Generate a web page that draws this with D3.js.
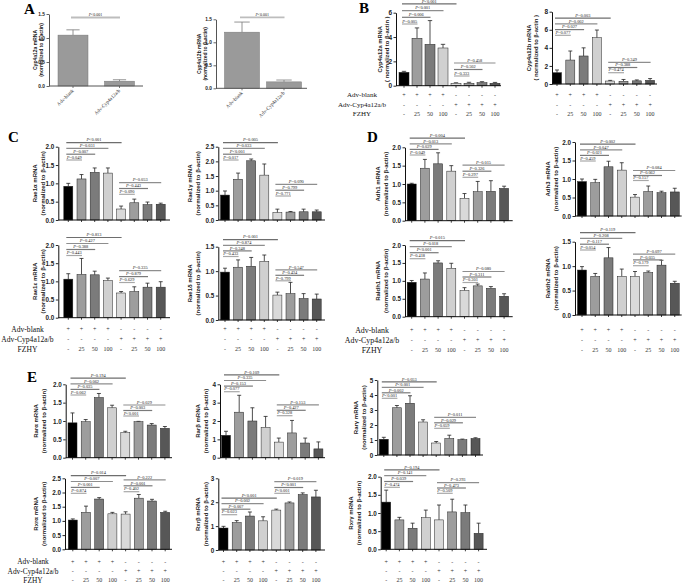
<!DOCTYPE html>
<html><head><meta charset="utf-8">
<script src="https://cdn.jsdelivr.net/npm/d3@7"></script>
<style>body{margin:0;background:#fff}</style>
</head><body>
<svg id="fig" width="685" height="584"></svg>
<script>
// ---------- DATA ----------
const catsA = ["Adv-blank", "Adv-Cyp4a12a/b"];
const cats = ["b0", "b25", "b50", "b100", "c0", "c25", "c50", "c100"];
const advBlank = ["+", "+", "+", "+", "-", "-", "-", "-"];
const advCyp = ["-", "-", "-", "-", "+", "+", "+", "+"];
const fzhy = ["-", "25", "50", "100", "-", "25", "50", "100"];
const rowNames = ["Adv-blank", "Adv-Cyp4a12a/b", "FZHY"];

const cyp4a12aA = [1.06, 0.10], cyp4a12aAErr = [0.11, 0.03];
const cyp4a12bA = [1.22, 0.14], cyp4a12bAErr = [0.22, 0.04];
const pA = ["P<0.001"];

const cyp4a12aB = [1.1, 3.9, 3.4, 3.1, 0.2, 0.2, 0.25, 0.2];
const cyp4a12aBErr = [0.08, 0.85, 1.95, 0.3, 0.04, 0.08, 0.08, 0.07];
const cyp4a12aBP1 = ["P=0.005", "P=0.006", "P<0.001", "P<0.001"];
const cyp4a12aBP2 = ["P=0.333", "P=0.502", "P=0.458"];
const cyp4a12bB = [1.25, 2.65, 3.1, 5.12, 0.33, 0.3, 0.35, 0.4];
const cyp4a12bBErr = [0.3, 1.0, 0.9, 0.85, 0.07, 0.2, 0.1, 0.2];
const cyp4a12bBP1 = ["P=0.077", "P=0.027", "P=0.002", "P=0.003"];
const cyp4a12bBP2 = ["P=0.474", "P=0.388", "P=0.349"];

const rae1a = [0.92, 1.12, 1.3, 1.28, 0.3, 0.47, 0.42, 0.43];
const rae1aErr = [0.08, 0.12, 0.12, 0.14, 0.08, 0.1, 0.07, 0.03];
const rae1aP1 = ["P=0.049", "P=0.007", "P=0.031", "P<0.001"];
const rae1aP2 = ["P=0.090", "P=0.443", "P=0.053"];
const rae1g = [0.85, 1.39, 2.02, 1.53, 0.25, 0.27, 0.28, 0.28];
const rae1gErr = [0.14, 0.21, 0.06, 0.38, 0.12, 0.02, 0.09, 0.06];
const rae1gP1 = ["P=0.017", "P<0.001", "P=0.033", "P=0.005"];
const rae1gP2 = ["P=0.771", "P=0.799", "P=0.090"];
const rae1e = [1.06, 1.19, 1.18, 1.02, 0.68, 0.72, 0.84, 0.84];
const rae1eErr = [0.15, 0.44, 0.1, 0.07, 0.04, 0.13, 0.11, 0.15];
const rae1eP1 = ["P=0.443", "P=0.388", "P=0.427", "P=0.813"];
const rae1eP2 = ["P=0.629", "P=0.879", "P=0.335"];
const rae1d = [0.98, 1.08, 1.1, 1.2, 0.51, 0.54, 0.44, 0.43];
const rae1dErr = [0.08, 0.15, 0.18, 0.13, 0.06, 0.23, 0.1, 0.1];
const rae1dP1 = ["P=0.433", "P=0.348", "P=0.874", "P=0.001"];
const rae1dP2 = ["P=0.799", "P=0.434", "P=0.547"];

const adh1 = [1.0, 1.43, 1.55, 1.35, 0.61, 0.79, 0.8, 0.88];
const adh1Err = [0.02, 0.24, 0.3, 0.15, 0.13, 0.28, 0.29, 0.06];
const adh1P1 = ["P=0.049", "P=0.029", "P=0.013", "P=0.004"];
const adh1P2 = ["P=0.297", "P=0.326", "P=0.015"];
const adh3 = [0.93, 0.9, 1.33, 1.24, 0.51, 0.66, 0.63, 0.65];
const adh3Err = [0.07, 0.09, 0.15, 0.2, 0.07, 0.15, 0.04, 0.1];
const adh3P1 = ["P=0.459", "P=0.021", "P=0.047", "P=0.002"];
const adh3P2 = ["P=0.157", "P=0.062", "P=0.084"];
const raldh1 = [0.96, 1.05, 1.5, 1.35, 0.73, 0.86, 0.79, 0.57];
const raldh1Err = [0.05, 0.17, 0.06, 0.14, 0.08, 0.05, 0.05, 0.07];
const raldh1P1 = ["P=0.418", "P<0.001", "P=0.018", "P=0.015"];
const raldh1P2 = ["P=0.301", "P=0.311", "P=0.080"];
const raldh2 = [0.92, 0.79, 1.17, 0.79, 0.79, 0.87, 1.02, 0.65];
const raldh2Err = [0.07, 0.06, 0.21, 0.15, 0.1, 0.03, 0.1, 0.04];
const raldh2P1 = ["P=0.054", "P=0.117", "P=0.208", "P=0.119"];
const raldh2P2 = ["P=0.179", "P=0.035", "P=0.097"];

const rara = [0.95, 0.98, 1.64, 1.36, 0.68, 0.98, 0.89, 0.8];
const raraErr = [0.27, 0.06, 0.11, 0.07, 0.04, 0.01, 0.04, 0.05];
const raraP1 = ["P=0.062", "P=0.035", "P=0.062", "P=0.194"];
const raraP2 = ["P<0.001", "P=0.003", "P=0.029"];
const rarb = [1.22, 2.48, 2.0, 1.65, 0.85, 1.35, 0.8, 0.48];
const rarbErr = [0.22, 0.92, 0.72, 0.6, 0.22, 0.68, 0.27, 0.38];
const rarbP1 = ["P=0.077", "P=0.153", "P=0.335", "P=0.109"];
const rarbP2 = ["P=0.328", "P=0.427", "P=0.153"];
const rarg = [1.05, 3.15, 3.45, 2.2, 0.8, 1.1, 1.02, 1.1];
const rargErr = [0.13, 0.15, 0.5, 0.15, 0.1, 0.22, 0.04, 0.05];
const rargP1 = ["P<0.001", "P=0.002", "P<0.001", "P=0.053"];
const rargP2 = ["P=0.059", "P=0.029", "P=0.011"];
const rxra = [1.03, 1.3, 1.77, 1.25, 1.24, 1.8, 1.7, 1.3];
const rxraErr = [0.04, 0.22, 0.05, 0.05, 0.08, 0.13, 0.06, 0.04];
const rxraP1 = ["P=0.874", "P<0.001", "P=0.007", "P=0.014"];
const rxraP2 = ["P=0.402", "P=0.001", "P=0.222"];
const rxrb = [0.92, 1.15, 1.42, 1.22, 1.67, 1.97, 2.32, 2.22];
const rxrbErr = [0.07, 0.08, 0.17, 0.17, 0.04, 0.04, 0.07, 0.28];
const rxrbP1 = ["P=0.023", "P=0.007", "P=0.002", "P<0.001"];
const rxrbP2 = ["P<0.001", "P<0.001", "P=0.019"];
const rxrg = [1.3, 0.81, 0.58, 0.87, 0.81, 1.03, 1.01, 0.44];
const rxrgErr = [0.33, 0.07, 0.14, 0.21, 0.41, 0.35, 0.21, 0.28];
const rxrgP1 = ["P=0.474", "P=0.039", "P=0.141", "P=0.194"];
const rxrgP2 = ["P=0.509", "P=0.473", "P=0.293"];

// ---------- STYLE ----------
const barColors = ["#000000", "#9d9d9d", "#7b7b7b", "#d0d0d0", "#d9d9d9", "#9d9d9d", "#7b7b7b", "#575757"];
const sigCols1 = ["#a8a8a8", "#7a7a7a", "#8e8e8e", "#6e6e6e"];
const sigCols2 = ["#a8a8a8", "#7a7a7a", "#8e8e8e"];
const SANS = "'Liberation Sans', Arial, sans-serif";
const SERIF = "'Liberation Serif', 'Times New Roman', serif";
const nl = "(normalized to β-actin)";

const svg = d3.select("#fig");

function sigText(g, x, y, txt, fs) {
  const t = g.append("text").attr("x", x).attr("y", y).attr("text-anchor", "middle")
    .style("font-family", SERIF).attr("font-size", fs).attr("fill", "#222");
  t.append("tspan").attr("font-style", "italic").text(txt[0]);
  t.append("tspan").text(txt.slice(1));
}

function drawChart(L) {
  const g = svg.append("g");
  const keys = L.cats || cats;
  const n = keys.length;
  const pad = 1 - L.bw / L.step;
  const x = d3.scaleBand().domain(keys)
    .range([L.c0 - L.step / 2, L.c0 + (n - 0.5) * L.step])
    .paddingInner(pad).paddingOuter(pad / 2);
  const y = d3.scaleLinear().domain([0, L.ymax]).range([L.y0, L.yTop]);
  const cx = k => x(k) + x.bandwidth() / 2;
  const colors = L.colors || barColors;
  const axCol = L.axCol || "#111";
  const errCol = L.errCol || "#222";

  const cap = Math.max(1.5, x.bandwidth() * 0.22);
  L.vals.forEach((v, i) => {
    const xc = cx(keys[i]), yt = y(v + L.errs[i]);
    g.append("line").attr("x1", xc).attr("x2", xc).attr("y1", y(v)).attr("y2", yt)
      .attr("stroke", errCol).attr("stroke-width", 0.8);
    g.append("line").attr("x1", xc - cap).attr("x2", xc + cap).attr("y1", yt).attr("y2", yt)
      .attr("stroke", errCol).attr("stroke-width", 0.8);
  });
  g.selectAll("rect.bar").data(L.vals).join("rect").attr("class", "bar")
    .attr("x", (d, i) => x(keys[i])).attr("y", d => y(d))
    .attr("width", x.bandwidth()).attr("height", d => y(0) - y(d))
    .attr("fill", (d, i) => colors[i]).attr("stroke", L.barStroke || "#222").attr("stroke-width", 0.5);

  const ya = g.append("g").attr("transform", `translate(${L.ax},0)`)
    .call(d3.axisLeft(y).tickValues(L.ticks).tickSize(2.5).tickSizeOuter(0).tickPadding(1.5)
      .tickFormat(d3.format(L.fmt)));
  ya.select(".domain").attr("stroke", axCol).attr("stroke-width", 1);
  ya.selectAll(".tick line").attr("stroke", axCol).attr("stroke-width", 0.9);
  ya.selectAll(".tick text").style("font-family", SANS).attr("font-weight", "bold")
    .attr("font-size", L.tfs).attr("fill", "#222");
  const xa = g.append("g").attr("transform", `translate(0,${L.y0})`)
    .call(d3.axisBottom(x).tickSize(2).tickSizeOuter(0).tickFormat(""));
  xa.select(".domain").attr("d", `M${L.ax},0H${L.axEnd}`).attr("stroke", axCol).attr("stroke-width", 1);
  xa.selectAll(".tick line").attr("stroke", axCol).attr("stroke-width", 0.8);

  const yc = (L.y0 + L.yTop) / 2 + (L.ylOff || 0);
  L.ylab.forEach((t, k) => {
    g.append("text").attr("transform", `translate(${L.ylx[k]},${yc}) rotate(-90)`)
      .attr("text-anchor", "middle").attr("dominant-baseline", "central")
      .style("font-family", SANS).attr("font-weight", "bold").attr("font-size", L.yfs)
      .attr("fill", "#222").text(t);
  });

  const sfs = L.sfs || 4.4;
  const drawSig = (from, to, yy, txt, col) => {
    const x1 = cx(keys[from]) - 2, x2 = cx(keys[to]) + 0.5;
    g.append("line").attr("x1", x1).attr("x2", x2).attr("y1", yy).attr("y2", yy)
      .attr("stroke", col).attr("stroke-width", L.sigW || 1.2);
    sigText(g, (x1 + x2) / 2, yy - 1.3, txt, sfs);
  };
  if (L.p1) L.p1.forEach((t, k) => drawSig(0, k + 1, L.s1 - k * L.s1d, t, L.sigCol || sigCols1[k]));
  if (L.p2) L.p2.forEach((t, k) => drawSig(4, 5 + k, L.s2 - k * L.s2d, t, sigCols2[k]));

  if (L.xlab) {
    keys.forEach(k => {
      g.append("text").attr("transform", `translate(${cx(k) + 1},${L.y0 + 5}) rotate(-45)`)
        .attr("text-anchor", "end").style("font-family", SERIF).attr("font-size", 5)
        .attr("fill", "#333").text(k);
    });
  }
  if (L.rows) {
    const rowsData = [advBlank, advCyp, fzhy];
    rowsData.forEach((row, r) => {
      row.forEach((s, i) => {
        g.append("text").attr("x", cx(keys[i])).attr("y", L.rows[r])
          .attr("text-anchor", "middle").attr("dominant-baseline", "central")
          .style("font-family", SERIF).attr("font-size", L.rfs || 6).attr("fill", "#333").text(s);
      });
      if (L.rowLabelX) {
        g.append("text").attr("x", L.rowLabelX).attr("y", L.rows[r])
          .attr("text-anchor", "middle").attr("dominant-baseline", "central")
          .style("font-family", SERIF).attr("font-size", L.rlfs || 7.6).attr("fill", "#111").text(rowNames[r]);
      }
    });
  }
}

const grayA = ["#9a9a9a", "#9a9a9a"];
const charts = [
  {cats: catsA, vals: cyp4a12aA, errs: cyp4a12aAErr, colors: grayA, barStroke: "#777", axCol: "#555", errCol: "#777",
   ax: 49, axEnd: 143, y0: 86, yTop: 14, ymax: 1.5, ticks: [0, 0.5, 1, 1.5], fmt: ".1f", tfs: 4.8,
   c0: 73, step: 46.5, bw: 30, ylab: ["Cyp4a12a mRNA", nl], ylx: [34.5, 40.5], yfs: 5,
   p1: pA, s1: 17.5, s1d: 0, sigCol: "#bdbdbd", sigW: 1.8, sfs: 4, xlab: true},
  {cats: catsA, vals: cyp4a12bA, errs: cyp4a12bAErr, colors: grayA, barStroke: "#777", axCol: "#555", errCol: "#777",
   ax: 216, axEnd: 307, y0: 88.3, yTop: 19.3, ymax: 1.5, ticks: [0, 0.5, 1, 1.5], fmt: ".1f", tfs: 4.8,
   c0: 242, step: 42, bw: 35, ylab: ["Cyp4a12b mRNA", nl], ylx: [199, 205], yfs: 5,
   p1: pA, s1: 17.3, s1d: 0, sigCol: "#bdbdbd", sigW: 1.8, sfs: 4, xlab: true},
  {vals: cyp4a12aB, errs: cyp4a12aBErr, ax: 396, axEnd: 501, y0: 85.7, yTop: 12.7, ymax: 6, ticks: [0, 2, 4, 6], fmt: "d", tfs: 6.5,
   c0: 404, step: 13, bw: 10, ylab: ["Cyp4a12a mRNA", "( normalized to β-actin )"], ylx: [379.5, 386.5], yfs: 5.8,
   p1: cyp4a12aBP1, s1: 24, s1d: 6.7, p2: cyp4a12aBP2, s2: 76, s2d: 6.5,
   rows: [95, 104.5, 114], rowLabelX: 362, rlfs: 7},
  {vals: cyp4a12bB, errs: cyp4a12bBErr, ax: 552, axEnd: 657, y0: 84, yTop: 11.7, ymax: 8, ticks: [0, 2, 4, 6, 8], fmt: "d", tfs: 6.5,
   c0: 557, step: 13.3, bw: 9, ylab: ["Cyp4a12b mRNA", "( normalized to β-actin )"], ylx: [529, 536], yfs: 5.8,
   p1: cyp4a12bBP1, s1: 35.3, s1d: 5.7, p2: cyp4a12bBP2, s2: 72.7, s2d: 5.2,
   rows: [95, 104.5, 114]},
  {vals: rae1a, errs: rae1aErr, ax: 58.3, axEnd: 170, y0: 220, yTop: 146.7, ymax: 2, ticks: [0, 0.5, 1, 1.5, 2], fmt: ".1f", tfs: 6.3,
   c0: 68.3, step: 13.2, bw: 9, ylab: ["Rae1α mRNA", nl], ylx: [35, 43], yfs: 6,
   p1: rae1aP1, s1: 160, s1d: 5.8, p2: rae1aP2, s2: 194.3, s2d: 5.8},
  {vals: rae1g, errs: rae1gErr, ax: 218.3, axEnd: 325, y0: 220, yTop: 146.7, ymax: 2.5, ticks: [0, 0.5, 1, 1.5, 2, 2.5], fmt: ".1f", tfs: 6.3,
   c0: 225, step: 13.1, bw: 9, ylab: ["Rae1γ mRNA", nl], ylx: [190, 198], yfs: 6,
   p1: rae1gP1, s1: 160, s1d: 5.8, p2: rae1gP2, s2: 196, s2d: 5.8},
  {vals: rae1e, errs: rae1eErr, ax: 58.3, axEnd: 170, y0: 317.7, yTop: 245, ymax: 2, ticks: [0, 0.5, 1, 1.5, 2], fmt: ".1f", tfs: 6.3,
   c0: 68.3, step: 13.2, bw: 9, ylab: ["Rae1ε mRNA", nl], ylx: [35, 43], yfs: 6,
   p1: rae1eP1, s1: 255.5, s1d: 6, p2: rae1eP2, s2: 282.5, s2d: 5.9,
   rows: [329.3, 339, 349.3], rowLabelX: 27.5},
  {vals: rae1d, errs: rae1dErr, ax: 218.3, axEnd: 325, y0: 320, yTop: 246.7, ymax: 1.5, ticks: [0, 0.5, 1, 1.5], fmt: ".1f", tfs: 6.3,
   c0: 225, step: 13.1, bw: 9, ylab: ["Rae1δ mRNA", nl], ylx: [190, 198], yfs: 6,
   p1: rae1dP1, s1: 256.5, s1d: 5.6, p2: rae1dP2, s2: 280.8, s2d: 5.5,
   rows: [329.3, 339, 349.3]},
  {vals: adh1, errs: adh1Err, ax: 405, axEnd: 512.7, y0: 220.7, yTop: 147.3, ymax: 2, ticks: [0, 0.5, 1, 1.5, 2], fmt: ".1f", tfs: 6.3,
   c0: 411.7, step: 13.2, bw: 9, ylab: ["Adh1 mRNA", nl], ylx: [378, 386], yfs: 6,
   p1: adh1P1, s1: 155, s1d: 5.6, p2: adh1P2, s2: 177.3, s2d: 6.1},
  {vals: adh3, errs: adh3Err, ax: 575, axEnd: 681.7, y0: 216, yTop: 142, ymax: 2, ticks: [0, 0.5, 1, 1.5, 2], fmt: ".1f", tfs: 6.3,
   c0: 582, step: 13.25, bw: 9, ylab: ["Adh3 mRNA", nl], ylx: [548, 556], yfs: 6,
   p1: adh3P1, s1: 161, s1d: 5.6, p2: adh3P2, s2: 180.5, s2d: 5},
  {vals: raldh1, errs: raldh1Err, ax: 405, axEnd: 512.7, y0: 316.7, yTop: 245, ymax: 2, ticks: [0, 0.5, 1, 1.5, 2], fmt: ".1f", tfs: 6.3,
   c0: 411.7, step: 13.2, bw: 9, ylab: ["Raldh1 mRNA", nl], ylx: [378, 386], yfs: 6,
   p1: raldh1P1, s1: 258.7, s1d: 6, p2: raldh1P2, s2: 282.5, s2d: 5.5,
   rows: [330, 340, 350], rowLabelX: 372, rlfs: 7.9},
  {vals: raldh2, errs: raldh2Err, ax: 575, axEnd: 681.7, y0: 315, yTop: 241.7, ymax: 1.5, ticks: [0, 0.5, 1, 1.5], fmt: ".1f", tfs: 6.3,
   c0: 582, step: 13.25, bw: 9, ylab: ["Raldh2 mRNA", nl], ylx: [548, 556], yfs: 6,
   p1: raldh2P1, s1: 250, s1d: 5.8, p2: raldh2P2, s2: 265.7, s2d: 5.8,
   rows: [330, 340, 350]},
  {vals: rara, errs: raraErr, ax: 65.7, axEnd: 172, y0: 457.7, yTop: 384.3, ymax: 2, ticks: [0, 0.5, 1, 1.5, 2], fmt: ".1f", tfs: 6.3,
   c0: 72.5, step: 13.2, bw: 9, ylab: ["Rarα mRNA", nl], ylx: [36, 44], yfs: 6,
   p1: raraP1, s1: 395, s1d: 5.6, p2: raraP2, s2: 416, s2d: 5.5},
  {vals: rarb, errs: rarbErr, ax: 220, axEnd: 325, y0: 457.7, yTop: 384.3, ymax: 4, ticks: [0, 1, 2, 3, 4], fmt: "d", tfs: 6.3,
   c0: 226, step: 13.2, bw: 9, ylab: ["Rarβ mRNA", nl], ylx: [198, 206], yfs: 6,
   p1: rarbP1, s1: 391.7, s1d: 5.6, p2: rarbP2, s2: 415.7, s2d: 5.4},
  {vals: rarg, errs: rargErr, ax: 377.3, axEnd: 483, y0: 455, yTop: 380, ymax: 5, ticks: [0, 1, 2, 3, 4, 5], fmt: "d", tfs: 6.3,
   c0: 383.8, step: 13.1, bw: 9, ylab: ["Rarγ mRNA", nl], ylx: [356, 364], yfs: 6,
   p1: rargP1, s1: 398.3, s1d: 5.5, p2: rargP2, s2: 428.3, s2d: 5.5},
  {vals: rxra, errs: rxraErr, ax: 65, axEnd: 172, y0: 549.3, yTop: 478.3, ymax: 2.5, ticks: [0, 0.5, 1, 1.5, 2, 2.5], fmt: ".1f", tfs: 6.3,
   c0: 72.8, step: 13.2, bw: 9, ylab: ["Rxrα mRNA", nl], ylx: [36, 44], yfs: 6,
   p1: rxraP1, s1: 493.3, s1d: 5.9, p2: rxraP2, s2: 491.7, s2d: 5.9,
   rows: [561.7, 571, 580], rowLabelX: 33, rlfs: 7.4},
  {vals: rxrb, errs: rxrbErr, ax: 218.3, axEnd: 325, y0: 550, yTop: 478.3, ymax: 3, ticks: [0, 1, 2, 3], fmt: "d", tfs: 6.3,
   c0: 223.5, step: 13.2, bw: 9, ylab: ["Rxrβ mRNA", nl], ylx: [198, 206], yfs: 6,
   p1: rxrbP1, s1: 514.7, s1d: 5.5, p2: rxrbP2, s2: 493.3, s2d: 5.8,
   rows: [561.7, 571, 580]},
  {vals: rxrg, errs: rxrgErr, ax: 380.7, axEnd: 487, y0: 549.3, yTop: 476.7, ymax: 2, ticks: [0, 0.5, 1, 1.5, 2], fmt: ".1f", tfs: 6.3,
   c0: 386.2, step: 13.2, bw: 9, ylab: ["Rxrγ mRNA", nl], ylx: [351, 359], yfs: 6,
   p1: rxrgP1, s1: 487.3, s1d: 5.8, p2: rxrgP2, s2: 493.3, s2d: 5.3,
   rows: [561.7, 571, 580]}
];

charts.forEach(drawChart);

const letters = [["A", 24, 13.5], ["B", 359, 12.5], ["C", 8, 142], ["D", 367, 142], ["E", 27, 382]];
svg.selectAll("text.letter").data(letters).join("text").attr("class", "letter")
  .attr("x", d => d[1]).attr("y", d => d[2]).text(d => d[0])
  .style("font-family", SERIF).attr("font-weight", "bold").attr("font-size", 15).attr("fill", "#000");
</script>
</body></html>
